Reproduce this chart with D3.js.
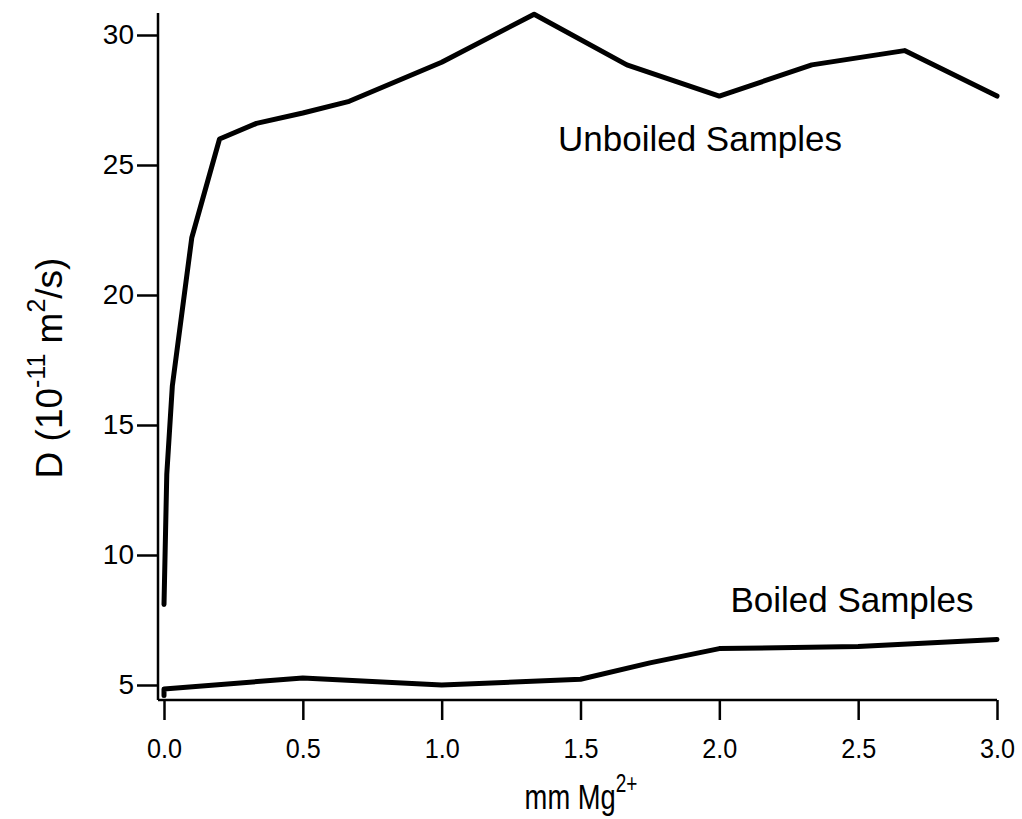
<!DOCTYPE html>
<html><head><meta charset="utf-8">
<script src="https://cdn.jsdelivr.net/npm/d3@7/dist/d3.min.js"></script>
<style>body{margin:0;background:#fff}svg{display:block}text{font-family:"Liberation Sans",Arial,sans-serif;fill:#000}</style>
</head><body><svg id="c" width="1022" height="819"></svg>
<script>
const unboiledX = [0, 0.01, 0.03, 0.1, 0.2, 0.333, 0.5, 0.667, 1.0, 1.333, 1.667, 2.0, 2.333, 2.667, 3.0];
const unboiledY = [8.1, 13.1, 16.5, 22.2, 26.0, 26.6, 27.0, 27.45, 28.95, 30.8, 28.85, 27.65, 28.85, 29.4, 27.65];
const boiledX = [0, 0, 0.5, 1.0, 1.5, 1.75, 2.0, 2.5, 3.0];
const boiledY = [4.6, 4.85, 5.27, 5.0, 5.22, 5.85, 6.4, 6.48, 6.75];
const xTicks = [0, 0.5, 1.0, 1.5, 2.0, 2.5, 3.0];
const yTicks = [5, 10, 15, 20, 25, 30];

const svg = d3.select("#c");
const x = d3.scaleLinear().domain([0, 3]).range([164, 997]);
const y = d3.scaleLinear().domain([5, 30]).range([685, 35]);
const xMin = x.invert(158), yMin = y.invert(700), yMax = y.invert(13);

// y axis
const ya = svg.append("g").attr("transform", `translate(${x(xMin)},0)`)
  .call(d3.axisLeft(y).tickValues(yTicks).tickFormat(d3.format("d")).tickSize(21).tickSizeOuter(0));
ya.select(".domain").remove();
ya.selectAll("line").attr("stroke", "#000").attr("stroke-width", 2.5);
ya.selectAll("text").style("font-size", "28px").attr("dx", 0);
svg.append("line").attr("x1", x(xMin)).attr("x2", x(xMin)).attr("y1", y(yMax)).attr("y2", y(yMin))
  .attr("stroke", "#000").attr("stroke-width", 2.5);

// x axis
const xa = svg.append("g").attr("transform", `translate(0,${y(yMin)})`)
  .call(d3.axisBottom(x).tickValues(xTicks).tickFormat(d3.format(".1f")).tickSize(20).tickSizeOuter(0));
xa.select(".domain").remove();
xa.selectAll("line").attr("stroke", "#000").attr("stroke-width", 2.5);
xa.selectAll("text").style("font-size", "28px").attr("dy", 35).attr("transform", "scale(0.9,1)");
svg.append("line").attr("x1", x(xMin)).attr("x2", x(3)).attr("y1", y(yMin)).attr("y2", y(yMin))
  .attr("stroke", "#000").attr("stroke-width", 2.5);

const line = d3.line().x(d => x(d[0])).y(d => y(d[1]));
svg.append("path").datum(d3.zip(unboiledX, unboiledY)).attr("d", line)
  .attr("fill", "none").attr("stroke", "#000").attr("stroke-width", 5).attr("stroke-linejoin", "round").attr("stroke-linecap", "round");
svg.append("path").datum(d3.zip(boiledX, boiledY)).attr("d", line)
  .attr("fill", "none").attr("stroke", "#000").attr("stroke-width", 5).attr("stroke-linejoin", "round").attr("stroke-linecap", "round");

svg.append("text").attr("x", 700).attr("y", 151).attr("text-anchor", "middle").attr("font-size", 35).text("Unboiled Samples");
svg.append("text").attr("x", 852).attr("y", 612).attr("text-anchor", "middle").attr("font-size", 35).text("Boiled Samples");

// x title
const xt = svg.append("g").attr("transform", "translate(581,809) scale(0.76,1)")
  .append("text").attr("text-anchor", "middle").attr("font-size", 36);
xt.append("tspan").text("mm Mg");
xt.append("tspan").attr("font-size", 25).attr("dy", -17).text("2+");

// y title
const yt = svg.append("text").attr("transform", "translate(62,368) rotate(-90)").attr("text-anchor", "middle").attr("font-size", 37);
yt.append("tspan").text("D (10");
yt.append("tspan").attr("font-size", 25).attr("dy", -17).text("-11");
yt.append("tspan").attr("dy", 17).text("  m");
yt.append("tspan").attr("font-size", 25).attr("dy", -17).text("2");
yt.append("tspan").attr("dy", 17).text("/s)");
</script></body></html>
